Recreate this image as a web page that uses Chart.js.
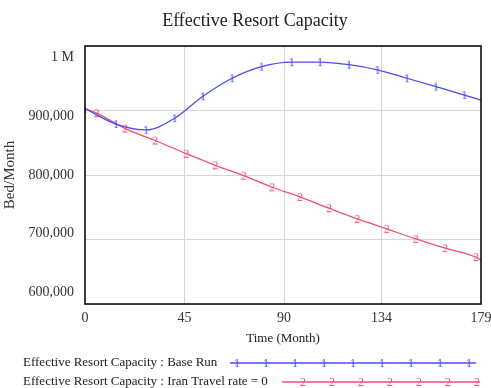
<!DOCTYPE html>
<html>
<head>
<meta charset="utf-8">
<script src="https://cdn.jsdelivr.net/npm/chart.js@4"></script>
<style>
html,body{margin:0;padding:0;background:#fff;}
#wrap{width:491px;height:388px;position:relative;overflow:hidden;}
</style>
</head>
<body>
<div id="wrap"><canvas id="c" width="491" height="388"></canvas></div>
<script>
// Data
const baseMonths = [0, 14, 27.6, 40.5, 53.3, 66.5, 79.8, 93.4, 106.2, 119.3, 132.2, 145.5, 158.6, 171.5, 179];
const baseValues = [903000, 879000, 870000, 888000, 922000, 950000, 968000, 975000, 975000, 971000, 963000, 950000, 937000, 924000, 916000];
const iranMonths = [0, 5.3, 18.1, 31.7, 45.8, 58.9, 71.7, 84.6, 97.1, 110.3, 123.1, 136.4, 149.5, 162.8, 176.7, 179];
const iranValues = [903000, 896000, 872000, 853500, 833000, 815000, 799000, 781000, 766000, 748500, 732000, 716500, 701000, 686500, 672600, 667500];
const xTickValues = [0, 45, 90, 134, 179];
const chartTitle = "Effective Resort Capacity";
const seriesLabels = ["Effective Resort Capacity : Base Run", "Effective Resort Capacity : Iran Travel rate = 0"];
const seriesGlyphs = ["1", "2"];

const BLUE = "#4b4bf0";
const RED = "#f0506e";
const SERIF = "'Liberation Serif', 'DejaVu Serif', serif";

function glyph(ch, color) {
  const cv = document.createElement('canvas');
  cv.width = 12; cv.height = 16;
  const g = cv.getContext('2d');
  g.fillStyle = color;
  g.font = "12px " + SERIF;
  g.textAlign = 'center';
  g.textBaseline = 'middle';
  g.fillText(ch, 6, 8.5);
  return cv;
}
const glyphs = [glyph(seriesGlyphs[0], BLUE), glyph(seriesGlyphs[1], RED)];

const basePts = baseMonths.map((m, i) => ({x: m, y: baseValues[i]}));
const iranPts = iranMonths.map((m, i) => ({x: m, y: iranValues[i]}));

const deco = {
  id: 'deco',
  afterDatasetsDraw(chart) {
    const {ctx, chartArea: a} = chart;
    ctx.save();
    ctx.strokeStyle = '#111';
    ctx.lineWidth = 1.6;
    ctx.strokeRect(a.left, a.top, a.right - a.left, a.bottom - a.top);
    ctx.restore();
  },
  afterDraw(chart) {
    const ctx = chart.ctx;
    const a = chart.chartArea;
    ctx.save();
    // title
    ctx.font = "18px " + SERIF;
    ctx.fillStyle = '#222';
    ctx.textAlign = 'center';
    ctx.textBaseline = 'middle';
    ctx.fillText(chartTitle, 255, 21);
    // y tick labels (Vensim style: spread slightly inside the frame)
    const ys = chart.scales.y;
    const mid = (a.top + a.bottom) / 2;
    ctx.font = "14px " + SERIF;
    ctx.fillStyle = '#333';
    ctx.textAlign = 'right';
    ys.ticks.forEach(t => {
      const p = ys.getPixelForValue(t.value);
      const yy = mid + (p - mid) * 0.91;
      ctx.fillText(t.label, a.left - 11, yy);
    });
    // legend
    ctx.textAlign = 'left';
    ctx.font = "13px " + SERIF;
    ctx.fillStyle = '#222';
    const rows = [
      {y: 363, x0: 230, x1: 476, n: 9, first: 237},
      {y: 382, x0: 282, x1: 480, n: 7, first: 303}
    ];
    rows.forEach((r, i) => {
      ctx.fillStyle = '#222';
      ctx.fillText(seriesLabels[i], 23, r.y);
      ctx.strokeStyle = chart.data.datasets[i].borderColor;
      ctx.lineWidth = 1.3;
      ctx.beginPath();
      ctx.moveTo(r.x0, r.y);
      ctx.lineTo(r.x1, r.y);
      ctx.stroke();
      for (let k = 0; k < r.n; k++) {
        const x = r.first + k * 29;
        ctx.drawImage(glyphs[i], x - 6, r.y - 8);
      }
    });
    ctx.restore();
  }
};

new Chart(document.getElementById('c'), {
  type: 'line',
  data: {
    datasets: [
      {
        label: seriesLabels[0],
        data: basePts,
        borderColor: BLUE,
        borderWidth: 1.3,
        cubicInterpolationMode: 'monotone',
        pointStyle: (c) => c.dataIndex === baseMonths.length - 1 ? false : glyphs[0],
        pointRadius: 6
      },
      {
        label: seriesLabels[1],
        data: iranPts,
        borderColor: RED,
        borderWidth: 1.3,
        cubicInterpolationMode: 'monotone',
        pointStyle: (c) => (c.dataIndex === 0 || c.dataIndex === iranMonths.length - 1) ? false : glyphs[1],
        pointRadius: 6
      }
    ]
  },
  options: {
    responsive: false,
    animation: false,
    layout: {padding: {left: 0, right: 10, top: 46, bottom: 42}},
    plugins: {
      legend: {display: false},
      tooltip: {enabled: false},
      title: {display: false}
    },
    scales: {
      x: {
        type: 'linear',
        min: 0, max: 179,
        afterBuildTicks: (s) => { s.ticks = xTickValues.map(v => ({value: v})); },
        afterFit: (s) => { s.height = 42; s.paddingRight = 0; s.paddingLeft = 0; },
        grid: {color: '#d4d4d4', drawTicks: false, lineWidth: 1},
        border: {display: false},
        ticks: {color: '#333', font: {family: SERIF, size: 14}, padding: 6, maxRotation: 0, autoSkip: false},
        title: {display: true, text: 'Time (Month)', color: '#222', font: {family: SERIF, size: 13, lineHeight: 1.2}, padding: {top: 0, bottom: 0}}
      },
      y: {
        min: 600000, max: 1000000,
        afterFit: (s) => { s.width = 85; s.paddingTop = 0; s.paddingBottom = 0; },
        grid: {color: '#d4d4d4', drawTicks: false, lineWidth: 1},
        border: {display: false},
        ticks: {
          stepSize: 100000,
          color: 'rgba(0,0,0,0)',
          font: {family: SERIF, size: 14},
          padding: 10,
          callback: (v) => v === 1000000 ? '1 M' : v.toLocaleString('en-US')
        },
        title: {display: true, text: 'Bed/Month', color: '#333', font: {family: SERIF, size: 15, lineHeight: 1.2}, padding: {top: 1, bottom: 0}}
      }
    }
  },
  plugins: [deco]
});
</script>
</body>
</html>
